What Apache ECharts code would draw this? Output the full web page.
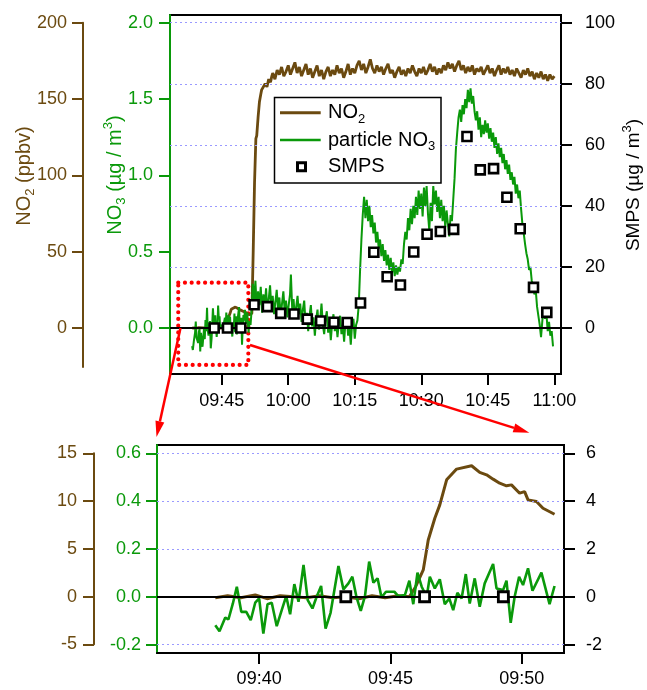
<!DOCTYPE html>
<html><head><meta charset="utf-8">
<script src="https://cdn.jsdelivr.net/npm/echarts@6/dist/echarts.min.js"></script>
<style>html,body{margin:0;padding:0;background:#fff}#c{width:647px;height:690px}</style>
</head><body><div id="c"></div><script>
// All times are minutes after 09:00
const no2Data = [
[38.33,-0.1],[38.8,0.1],[39.3,-0.1],[39.85,0.2],[40.3,-0.2],[40.8,0.1],[41.3,0.0],[41.8,-0.1],[42.3,0.1],[42.8,-0.1],
[43.3,0.0],[43.8,-0.2],[44.3,0.1],[44.8,-0.1],[45.3,0.1],[45.72,0.0],[45.96,1.05],[46.25,2.8],[46.44,5.94],[46.69,8.21],
[46.88,9.61],[47.14,12.23],[47.52,13.35],[48.09,13.7],[48.4,13.0],[48.66,12.75],[48.91,12.3],[49.16,11.88],[49.42,11.6],[49.61,11.7],
[49.92,10.83],[50.11,11.0],[50.24,10.13],[50.56,9.96],[50.81,9.26],[51.25,8.63],[51.5,8.4],[51.8,9.6],[52.1,50],[52.4,95],
[52.7,124],[52.9,126],[53.2,138],[53.5,148],[53.8,153],[54.0,156],[54.4,156],[54.8,160],[55.2,158],[55.6,163],[56.0,161],[56.3,165],
[56.5,167],[57.0,163],[57.5,169],[58.0,166],[58.5,171],[59.0,165],[59.5,168],[60.0,172],[60.5,166],[61.0,170],[61.5,174],[62.0,167],
[62.5,171],[63.0,165],[63.5,169],[64.0,173],[64.5,166],[65.0,170],[65.5,164],[66.0,168],[66.5,172],[67.0,165],[67.5,169],[68.0,163],
[68.5,168],[69.0,171],[69.5,165],[70.0,169],[70.5,166],[71.0,172],[71.5,167],[72.0,170],[72.5,164],[73.0,168],[73.5,173],[74.0,166],
[74.5,170],[75.0,167],[75.5,172],[76.0,175],[76.5,169],[77.0,173],[77.5,167],[78.0,171],[78.5,176],[79.0,170],[79.5,167],[80.0,172],
[80.5,168],[81.0,171],[81.5,166],[82.0,170],[82.5,173],[83.0,167],[83.5,169],[84.0,164],[84.5,168],[85.0,171],[85.5,166],[86.0,169],
[86.5,165],[87.0,170],[87.5,167],[88.0,172],[88.5,168],[89.0,165],[89.5,170],[90.0,167],[90.5,171],[91.0,166],[91.5,169],[92.0,173],
[92.5,168],[93.0,171],[93.5,166],[94.0,170],[94.5,167],[95.0,172],[95.5,169],[96.0,174],[96.5,170],[97.0,173],[97.5,168],[98.0,172],
[98.5,175],[99.0,169],[99.5,172],[100.0,167],[100.5,171],[101.0,168],[101.5,172],[102.0,166],[102.5,170],[103.0,168],[103.5,171],[104.0,166],
[104.5,169],[105.0,172],[105.5,167],[106.0,170],[106.5,165],[107.0,169],[107.5,172],[108.0,166],[108.5,170],[109.0,167],[109.5,171],[110.0,166],
[110.5,169],[111.0,165],[111.5,170],[112.0,167],[112.5,164],[113.0,169],[113.5,166],[114.0,170],[114.5,165],[115.0,168],[115.5,163],[116.0,167],
[116.5,164],[117.0,168],[117.5,163],[118.0,166],[118.5,162],[119.0,166],[119.5,163],[120.0,165]
];
const no3Data = [
[38.33,-0.119],[38.49,-0.144],[38.71,-0.087],[38.83,-0.095],[39.0,-0.028],[39.15,0.042],[39.32,-0.063],[39.51,-0.063],[39.68,-0.098],[39.85,-0.025],
[40.0,-0.007],[40.16,-0.154],[40.32,-0.031],[40.48,-0.025],[40.67,-0.123],[40.86,-0.056],[41.03,0.003],[41.18,-0.073],[41.34,0.053],[41.5,-0.021],
[41.69,0.133],[41.85,-0.014],[42.03,-0.049],[42.19,0.0],[42.36,0.045],[42.53,-0.133],[42.72,-0.067],[43.02,0.129],[43.21,0.031],[43.4,0.056],
[43.55,0.084],[43.71,-0.003],[43.87,-0.059],[44.03,0.003],[44.19,0.147],[44.35,0.059],[44.51,0.077],[44.66,-0.003],[44.83,0.021],[44.98,0.021],
[45.15,0.021],[45.3,0.003],[45.55,0.007],[45.72,0.067],[45.87,-0.031],[46.03,0.101],[46.19,0.042],[46.38,0.0],[46.5,0.084],[46.69,0.035],
[46.88,0.073],[47.07,-0.031],[47.24,-0.007],[47.39,-0.056],[47.55,0.017],[47.71,-0.007],[47.87,0.095],[48.02,-0.028],[48.21,0.077],[48.4,-0.042],
[48.59,0.056],[48.91,0.137],[49.04,0.035],[49.29,0.028],[49.42,0.067],[49.58,-0.109],[49.73,0.0],[49.9,0.084],[50.05,0.049],[50.24,0.119],
[50.41,0.025],[50.75,0.101],[51.06,-0.031],[51.25,0.045],
[51.5,0.02],[51.75,0.12],[52.0,0.29],[52.3,0.18],[52.6,0.31],[52.9,0.12],[53.2,0.24],[53.5,0.15],[53.8,0.27],[54.1,0.10],
[54.4,0.22],[54.7,0.14],[55.0,0.26],[55.3,0.11],[55.6,0.19],[55.9,0.28],[56.2,0.13],[56.5,0.21],[56.8,0.09],[57.1,0.17],
[57.4,0.25],[57.7,0.12],[58.0,0.20],[58.3,0.08],[58.6,0.16],[58.9,0.24],[59.2,0.11],[59.5,0.18],[59.8,0.07],[60.1,0.15],
[60.4,0.22],[60.6,0.35],[60.9,0.12],[61.2,0.19],[61.5,0.06],[61.8,0.14],[62.1,0.21],[62.4,0.09],[62.7,0.16],[63.0,0.04],
[63.3,0.12],[63.6,0.18],[63.9,0.03],[64.2,0.10],[64.5,-0.02],[64.8,0.08],[65.1,0.15],[65.4,0.01],[65.7,0.07],[66.0,-0.05],
[66.3,0.06],[66.6,0.12],[66.9,-0.01],[67.2,0.05],[67.5,0.16],[67.8,0.02],[68.1,-0.04],[68.4,0.06],[68.7,0.11],[69.0,-0.03],
[69.3,0.04],[69.6,-0.08],[69.9,0.03],[70.2,0.09],[70.5,-0.02],[70.8,0.05],[71.1,-0.06],[71.4,0.03],[71.7,0.08],[72.0,-0.04],
[72.3,0.02],[72.6,-0.09],[72.9,0.04],[73.2,0.07],[73.5,-0.05],[73.8,0.01],[74.1,-0.11],[74.4,0.03],[74.7,0.06],[75.0,-0.07],
[75.3,0.02],[75.6,0.05],[75.9,0.15],[76.2,0.38],[76.5,0.58],[76.8,0.74],[77.1,0.86],[77.4,0.72],[77.7,0.84],[78.0,0.70],
[78.3,0.80],[78.6,0.66],[78.9,0.74],[79.2,0.62],[79.5,0.69],[79.8,0.56],[80.1,0.63],[80.4,0.52],[80.7,0.58],[81.0,0.47],
[81.3,0.55],[81.6,0.44],[81.9,0.51],[82.2,0.41],[82.5,0.48],[82.8,0.38],[83.1,0.46],[83.4,0.36],[83.7,0.43],[84.0,0.34],
[84.3,0.41],[84.6,0.35],[84.9,0.40],[85.2,0.37],[85.5,0.45],[85.8,0.42],[86.1,0.55],[86.4,0.63],[86.7,0.58],[87.0,0.72],
[87.3,0.64],[87.6,0.78],[87.9,0.68],[88.2,0.80],[88.5,0.72],[88.8,0.86],[89.1,0.74],[89.4,0.90],[89.7,0.78],[90.0,0.88],
[90.3,0.73],[90.6,0.92],[90.9,0.80],[91.2,0.93],[91.5,0.75],[91.8,0.64],[92.1,0.82],[92.4,0.70],[92.7,0.93],[93.0,0.81],
[93.3,0.90],[93.6,0.76],[93.9,0.86],[94.2,0.72],[94.5,0.84],[94.8,0.70],[95.1,0.80],[95.4,0.66],[95.7,0.77],[96.0,0.68],
[96.3,0.60],[96.6,0.74],[96.9,0.70],[97.2,0.84],[97.5,0.98],[97.8,1.17],[98.1,1.28],[98.4,1.38],[98.7,1.43],[99.0,1.35],
[99.3,1.46],[99.6,1.40],[99.9,1.50],[100.2,1.44],[100.5,1.56],[100.8,1.48],[101.1,1.57],[101.4,1.47],[101.7,1.52],[102.0,1.42],
[102.3,1.36],[102.6,1.42],[102.9,1.30],[103.2,1.38],[103.5,1.25],[103.8,1.33],[104.1,1.27],[104.4,1.36],[104.7,1.28],[105.0,1.34],
[105.3,1.24],[105.6,1.31],[105.9,1.22],[106.2,1.28],[106.5,1.18],[106.8,1.25],[107.1,1.14],[107.4,1.21],[107.7,1.12],[108.0,1.18],
[108.3,1.08],[108.6,1.14],[108.9,1.04],[109.2,1.10],[109.5,1.01],[109.8,1.07],[110.1,0.97],[110.4,1.02],[110.7,0.94],[111.0,0.99],
[111.3,0.88],[111.6,0.94],[111.9,0.85],[112.2,0.90],[112.5,0.78],[112.8,0.68],[113.1,0.62],[113.4,0.55],[113.7,0.49],[114.0,0.45],
[114.3,0.38],[114.6,0.40],[114.9,0.31],[115.2,0.28],[115.5,0.22],[115.8,0.25],[116.1,0.14],[116.4,0.08],[116.7,0.02],[117.0,-0.06],
[117.3,0.05],[117.6,0.13],[117.9,0.06],[118.2,0.10],[118.5,-0.02],[118.8,0.04],[119.1,-0.05],[119.4,-0.02],[119.7,-0.12]
];
const smpsTimes = [43.3,46.3,49.3,52.3,55.3,58.3,61.3,64.3,67.3,70.3,73.3,76.3,79.3,82.3,85.3,88.3,91.3,94.3,97.3,100.3,103.3,106.3,109.3,112.3,115.3,118.3];
const smpsValues = [0,0,0,7.6,7.0,4.8,4.6,2.9,2.3,1.9,1.8,8.2,24.8,16.8,14.1,24.9,30.7,31.6,32.3,62.7,51.8,52.2,42.8,32.5,13.3,5.1];

const topTimeTicks = [45,60,75,90,105,120];
const bottomTimeTicks = [40,45,50];
const topNO2Ticks = [0,50,100,150,200];
const topNO3Ticks = [0,0.5,1,1.5,2];
const topSMPSTicks = [0,20,40,60,80,100];
const bottomNO2Ticks = [-5,0,5,10,15];
const bottomNO3Ticks = [-0.2,0,0.2,0.4,0.6];
const bottomSMPSTicks = [-2,0,2,4,6];
const zoomBox = [[35.2,0.297],[51.0,-0.242]];
const zoomEnd = 51.25; // last time shown in the lower (zoomed) panel

const FONT = '"Liberation Sans", Arial, sans-serif';
const BROWN = '#6b4a10';
const GREEN = '#0a990a';
const GRIDC = '#9a9aff';
const RED = '#ff0000';

const smpsData = smpsTimes.map((t,i)=>[t, smpsValues[i]]);
const no2Zoom = no2Data.filter(p=>p[0]<=zoomEnd);
const no3Zoom = no3Data.filter(p=>p[0]<=zoomEnd);
const pad = n => (n<10?'0':'')+n;
const timeFmt = v => { const m = Math.round(v); return pad(9+Math.floor(m/60))+':'+pad(m%60); };

function valAxis(o){
  const c = o.color;
  return {
    type:'value', gridIndex:o.grid, position:o.pos, min:o.min, max:o.max, show:o.show!==false,
    axisLine:{show:true,onZero:false,lineStyle:{color:c,width:2}},
    axisTick:{show:true,inside:false,length:11,lineStyle:{color:c,width:2},customValues:o.ticks},
    axisLabel:{show:true,customValues:o.ticks,color:c,fontSize:18,fontFamily:FONT,margin:o.margin,
      formatter:o.fmt||(v=>String(v))},
    splitLine:{show:false}, minorTick:{show:false}
  };
}
function hiddenY(grid,min,max){return {type:'value',gridIndex:grid,min:min,max:max,show:false,splitLine:{show:false}};}

const option = {
  animation:false,
  backgroundColor:'#fff',
  grid:[
    {left:170,top:15,width:391,height:359,show:true,borderColor:'#000',borderWidth:2,backgroundColor:'transparent',outerBoundsMode:'none',containLabel:false},
    {left:157,top:445,width:407,height:208,show:true,borderColor:'#000',borderWidth:2,backgroundColor:'transparent',outerBoundsMode:'none',containLabel:false},
    {left:83,top:22.7,width:10,height:344.3,show:false,outerBoundsMode:'none',containLabel:false},
    {left:94,top:453.3,width:10,height:191,show:false,outerBoundsMode:'none',containLabel:false}
  ],
  xAxis:[
    valAxis({grid:0,pos:'bottom',min:33.34,max:121.5,ticks:topTimeTicks,color:'#000',margin:18,fmt:timeFmt}),
    valAxis({grid:1,pos:'bottom',min:36.11,max:51.61,ticks:bottomTimeTicks,color:'#000',margin:17,fmt:timeFmt}),
    {type:'value',gridIndex:2,show:false,min:0,max:1},
    {type:'value',gridIndex:3,show:false,min:0,max:1}
  ],
  yAxis:[
    valAxis({grid:0,pos:'left',min:-0.3013,max:2.0504,ticks:topNO3Ticks,color:GREEN,margin:17,fmt:v=>v.toFixed(1)}),
    hiddenY(0,-30.13,205.04),
    valAxis({grid:0,pos:'right',min:-15.07,max:102.52,ticks:topSMPSTicks,color:'#000',margin:24}),
    valAxis({grid:1,pos:'left',min:-0.2352,max:0.6348,ticks:bottomNO3Ticks,color:GREEN,margin:16,fmt:v=>v.toFixed(1)}),
    hiddenY(1,-5.88,15.87),
    valAxis({grid:1,pos:'right',min:-2.352,max:6.348,ticks:bottomSMPSTicks,color:'#000',margin:22}),
    valAxis({grid:2,pos:'left',min:-25.55,max:200,ticks:topNO2Ticks,color:BROWN,margin:16}),
    valAxis({grid:3,pos:'left',min:-5,max:15,ticks:bottomNO2Ticks,color:BROWN,margin:17})
  ],
  series:[
    {type:'line',name:'gridTop',xAxisIndex:0,yAxisIndex:2,data:[],z:1,silent:true,
      markLine:{silent:true,symbol:'none',animation:false,label:{show:false},
        lineStyle:{color:GRIDC,type:[2,3],width:1},
        data:topSMPSTicks.filter(v=>v!==0).map(v=>({yAxis:v})).concat([{yAxis:0,lineStyle:{color:'#000',type:'solid',width:2}}])}},
    {type:'line',name:'gridBottom',xAxisIndex:1,yAxisIndex:5,data:[],z:1,silent:true,
      markLine:{silent:true,symbol:'none',animation:false,label:{show:false},
        lineStyle:{color:GRIDC,type:[2,3],width:1},
        data:bottomSMPSTicks.filter(v=>v!==0).map(v=>({yAxis:v})).concat([{yAxis:0,lineStyle:{color:'#000',type:'solid',width:2}}])}},
    {type:'line',name:'NO2',xAxisIndex:0,yAxisIndex:1,data:no2Data,symbol:'none',z:3,lineStyle:{color:BROWN,width:2.8},clip:true},
    {type:'line',name:'particle NO3',xAxisIndex:0,yAxisIndex:0,data:no3Data,symbol:'none',z:4,lineStyle:{color:GREEN,width:2},clip:true},
    {type:'scatter',name:'SMPS',xAxisIndex:0,yAxisIndex:2,data:smpsData,symbol:'rect',symbolSize:9,z:6,
      itemStyle:{color:'#fff',borderColor:'#000',borderWidth:2.6,opacity:1}},
    {type:'line',name:'box',xAxisIndex:0,yAxisIndex:0,data:[],z:8,silent:true,
      markArea:{silent:true,itemStyle:{color:'rgba(0,0,0,0)',borderColor:RED,borderWidth:4.2,borderType:[0.01,6.7],borderCap:'round'},
        label:{show:false},data:[[{coord:zoomBox[0]},{coord:zoomBox[1]}]]}},
    {type:'line',name:'NO2b',xAxisIndex:1,yAxisIndex:4,data:no2Zoom,symbol:'none',z:3,lineStyle:{color:BROWN,width:3},clip:true},
    {type:'line',name:'NO3b',xAxisIndex:1,yAxisIndex:3,data:no3Zoom,symbol:'none',z:4,lineStyle:{color:GREEN,width:2.6},clip:true},
    {type:'scatter',name:'SMPSb',xAxisIndex:1,yAxisIndex:5,data:smpsData,symbol:'rect',symbolSize:10,z:6,clip:true,
      itemStyle:{color:'#fff',borderColor:'#000',borderWidth:2.8,opacity:1}}
  ],
  graphic:[
    {type:'text',x:24,y:176,rotation:Math.PI/2,z:50,style:{text:'{m|NO}{s|2}{m| (ppbv)}',align:'center',verticalAlign:'middle',
      rich:{m:{fontSize:20,fontFamily:FONT,fill:BROWN,lineHeight:26},s:{fontSize:13,fontFamily:FONT,fill:BROWN,verticalAlign:'bottom',lineHeight:14}}}},
    {type:'text',x:115,y:175,rotation:Math.PI/2,z:50,style:{text:'{m|NO}{s|3}{m| (µg / m}{p|3}{m|)}',align:'center',verticalAlign:'middle',
      rich:{m:{fontSize:20,fontFamily:FONT,fill:GREEN,lineHeight:26},s:{fontSize:13,fontFamily:FONT,fill:GREEN,verticalAlign:'bottom',lineHeight:14},
            p:{fontSize:13,fontFamily:FONT,fill:GREEN,verticalAlign:'top',lineHeight:14}}}},
    {type:'text',x:634,y:185,rotation:Math.PI/2,z:50,style:{text:'{m|SMPS (µg / m}{p|3}{m|)}',align:'center',verticalAlign:'middle',
      rich:{m:{fontSize:19,fontFamily:FONT,fill:'#000',lineHeight:26},p:{fontSize:13,fontFamily:FONT,fill:'#000',verticalAlign:'top',lineHeight:14}}}},
    {type:'rect',z:60,shape:{x:274.5,y:97.5,width:166.5,height:85.5},style:{fill:'#fff',stroke:'#000',lineWidth:1.5}},
    {type:'line',z:61,shape:{x1:280,y1:112.7,x2:320.7,y2:112.7},style:{stroke:BROWN,lineWidth:3}},
    {type:'line',z:61,shape:{x1:280,y1:140,x2:320.7,y2:140},style:{stroke:GREEN,lineWidth:2.5}},
    {type:'rect',z:61,shape:{x:297.5,y:162.7,width:8,height:8},style:{fill:'#fff',stroke:'#000',lineWidth:3}},
    {type:'text',z:61,x:328,y:112.7,style:{text:'{m|NO}{s|2}',align:'left',verticalAlign:'middle',
      rich:{m:{fontSize:20,fontFamily:FONT,fill:'#000',lineHeight:26},s:{fontSize:13,fontFamily:FONT,fill:'#000',verticalAlign:'bottom',lineHeight:14}}}},
    {type:'text',z:61,x:328,y:140,style:{text:'{m|particle NO}{s|3}',align:'left',verticalAlign:'middle',
      rich:{m:{fontSize:20,fontFamily:FONT,fill:'#000',lineHeight:26},s:{fontSize:13,fontFamily:FONT,fill:'#000',verticalAlign:'bottom',lineHeight:14}}}},
    {type:'text',z:61,x:328,y:166.7,style:{text:'SMPS',align:'left',verticalAlign:'middle',fontSize:20,fontFamily:FONT,fill:'#000'}},
    {type:'line',z:70,shape:{x1:180.5,y1:328,x2:159.9,y2:421.4},style:{stroke:RED,lineWidth:2.5}},
    {type:'polygon',z:70,shape:{points:[[156.5,437],[155.5,420.4],[164.3,422.4]]},style:{fill:RED}},
    {type:'line',z:70,shape:{x1:250,y1:345,x2:514,y2:427.9},style:{stroke:RED,lineWidth:2.5}},
    {type:'polygon',z:70,shape:{points:[[529.3,432.7],[512.7,432.2],[515.3,423.6]]},style:{fill:RED}}
  ]
};
const chart = echarts.init(document.getElementById('c'),null,{renderer:'canvas'});
chart.setOption(option);
</script></body></html>
